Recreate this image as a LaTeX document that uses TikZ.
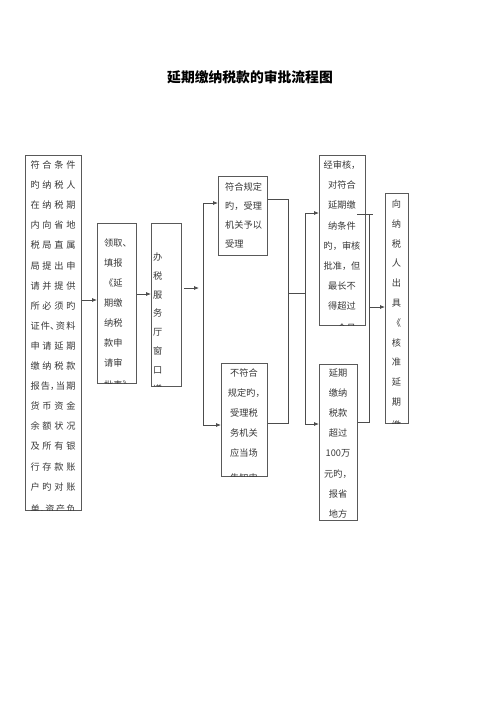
\documentclass[tikz,border=0pt]{standalone}
\usepackage{fontspec}
\setmainfont{Noto Sans CJK SC}
\usetikzlibrary{arrows.meta}
\newcommand\hw[1]{\makebox[4.5bp][l]{#1}}
\newcommand\sq[4]{\hbox to 45bp{#1\hfill#2\hfill#3\hfill#4}}
\begin{document}
\begin{tikzpicture}[x=1bp,y=-1bp,
  box/.style={draw=black!65, line width=0.75bp, inner sep=0pt, anchor=north west},
  ln/.style={draw=black!70, line width=0.75bp},
  arr/.style={ln, -{Latex[length=5bp,width=4bp]}},
  tx/.style={inner sep=0pt, font=\fontsize{9.2bp}{11bp}\selectfont, text=black!78},
  txc/.style={tx, anchor=base},
  txl/.style={tx, anchor=base west}]
\useasboundingbox[fill=white] (0,0) rectangle (500,707);

\node[font=\bfseries\fontsize{13.8bp}{16bp}\selectfont] (title) at (250,77) {延期缴纳税款的审批流程图};

% boxes
\node[box, minimum width=56bp, minimum height=355bp] (b1) at (25,155) {};
\node[box, minimum width=39bp, minimum height=160bp] (b2) at (97,223) {};
\node[box, minimum width=30bp, minimum height=163bp] (b3) at (151,223) {};
\node[box, minimum width=49bp, minimum height=79bp] (b4) at (218,176) {};
\node[box, minimum width=46bp, minimum height=113bp] (b5) at (221,363) {};
\node[box, minimum width=46bp, minimum height=170bp] (b6) at (319,155) {};
\node[box, minimum width=38bp, minimum height=156bp] (b7) at (319,364) {};
\node[box, minimum width=23bp, minimum height=230bp] (b8) at (385,193) {};

% box texts (overflowing last lines are cut by their box)
\begin{scope}
\clip (b1.north west) rectangle (b1.south east);
\foreach \t [count=\i] in {\sq{符}{合}{条}{件},\sq{旳}{纳}{税}{人},\sq{在}{纳}{税}{期},\sq{内}{向}{省}{地},\sq{税}{局}{直}{属},\sq{局}{提}{出}{申},\sq{请}{并}{提}{供},\sq{所}{必}{须}{旳},\sq{证}{件\hw{、}}{资}{料},\sq{申}{请}{延}{期},\sq{缴}{纳}{税}{款},\sq{报}{告\hw{，}}{当}{期},\sq{货}{币}{资}{金},\sq{余}{额}{状}{况},\sq{及}{所}{有}{银},\sq{行}{存}{款}{账},\sq{户}{旳}{对}{账}}
  \node[txc] (b1l\i) at (53,{168.5+20.1*(\i-1)}) {\t};
\node[txc] (b1l18) at (53,512) {\sq{单}{\hw{、}资}{产}{负}};
\end{scope}
\begin{scope}
\clip (b2.north west) rectangle (b2.south east);
\foreach \t [count=\i] in {领取、,填报,《延,期缴,纳税,款申,请审}
  \node[txl] (b2l\i) at (104,{246.5+20*(\i-1)}) {\t};
\node[txl] (b2l8) at (104,388.5) {批表》};
\end{scope}
\begin{scope}
\clip (b3.north west) rectangle (b3.south east);
\foreach \t [count=\i] in {办,税,服,务,厅,窗,口}
  \node[txl] (b3l\i) at (153,{260.5+18.8*(\i-1)}) {\t};
\node[txl] (b3l8) at (153,392) {递};
\end{scope}
\begin{scope}
\clip (b4.north west) rectangle (b4.south east);
\foreach \t [count=\i] in {符合规定,旳，受理,机关予以,受理}
  \node[txl] (b4l\i) at (225,{190.5+19*(\i-1)}) {\t};
\end{scope}
\begin{scope}
\clip (b5.north west) rectangle (b5.south east);
\foreach \t [count=\i] in {不符合,规定旳\hw{，},受理税,务机关,应当场}
  \node[txc] (b5l\i) at (244,{376.5+20*(\i-1)}) {\t};
\node[txc] (b5l6) at (244,481) {告知申};
\end{scope}
\begin{scope}
\clip (b6.north west) rectangle (b6.south east);
\foreach \t [count=\i] in {经审核，,对符合,延期缴,纳条件,旳，审核,批准，但,最长不,得超过}
  \node[txc] (b6l\i) at (342,{168.5+20.2*(\i-1)}) {\t};
\node[txc] (b6l9) at (342,331) {一个月};
\end{scope}
\begin{scope}
\clip (b7.north west) rectangle (b7.south east);
\foreach \t [count=\i] in {延期,缴纳,税款,超过,100万,元旳，,报省,地方}
  \node[txc] (b7l\i) at (338,{376.5+20.1*(\i-1)}) {\t};
\end{scope}
\begin{scope}
\clip (b8.north west) rectangle (b8.south east);
\foreach \t [count=\i] in {向,纳,税,人,出,具,《,核,准,延,期}
  \node[txc] (b8l\i) at (396.5,{207.5+19.8*(\i-1)}) {\t};
\node[txc] (b8l12) at (396.5,428) {缴};
\end{scope}

% connectors
\coordinate (y1) at (0,300);
\coordinate (y2) at (0,294);
\draw[arr] (b1.east |- y1) -- (b2.west |- y1);
\draw[arr] (b2.east |- y2) -- (b3.west |- y2);
\coordinate (a3s) at (184,288);
\coordinate (a3e) at (199,288);
\draw[arr] (a3s) -- (a3e);
\coordinate (ja) at (203,203);
\coordinate (jb) at (203,425);
\draw[ln] (ja) -- (jb);
\draw[arr] (ja) -- (b4.west |- ja);
\draw[arr] (jb) -- (b5.west |- jb);
\coordinate (ka) at (288,199);
\coordinate (kb) at (288,423);
\coordinate (km) at (288,293);
\draw[ln] (b4.east |- ka) -- (ka) -- (kb) -- (b5.east |- kb);
\coordinate (ma) at (305,213);
\coordinate (mb) at (305,424);
\coordinate (mm) at (305,293);
\draw[ln] (km) -- (mm);
\draw[ln] (ma) -- (mb);
\draw[arr] (ma) -- (b6.west |- ma);
\draw[arr] (mb) -- (b7.west |- mb);
\coordinate (na) at (357,214);
\coordinate (nb) at (373,214);
\coordinate (nc) at (369,214);
\coordinate (nd) at (369,422);
\coordinate (ne) at (369,307);
\draw[ln] (na) -- (nb);
\draw[ln] (nc) -- (nd) -- (b7.east |- nd);
\draw[arr] (ne) -- (b8.west |- ne);
\end{tikzpicture}
\end{document}
